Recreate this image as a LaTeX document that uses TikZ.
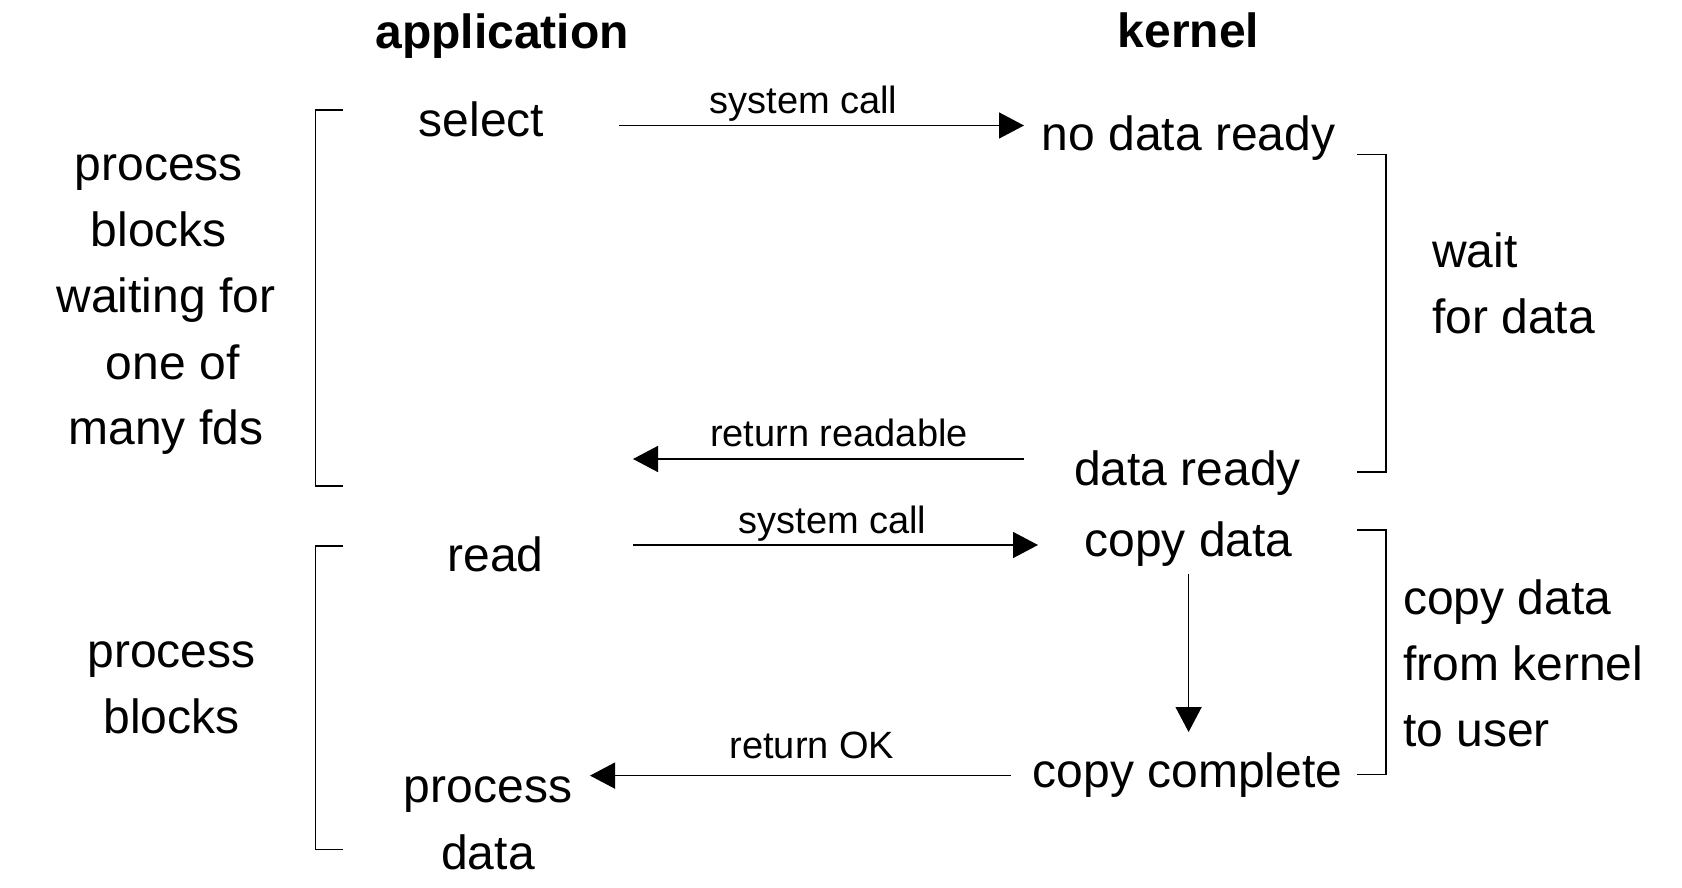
\documentclass[tikz,border=0pt]{standalone}
\usepackage{fontspec}
\setmainfont{Liberation Sans}
\usetikzlibrary{arrows.meta}
\begin{document}
\begin{tikzpicture}[x=1pt,y=-1pt,
  big/.style={font=\fontsize{48}{58}\selectfont, inner sep=0pt, anchor=center},
  head/.style={font=\fontsize{48}{58}\selectfont\bfseries, inner sep=0pt, anchor=center},
  small/.style={font=\fontsize{38}{46}\selectfont, inner sep=0pt, anchor=center},
  side/.style={font=\fontsize{48}{58}\selectfont, inner sep=0pt, anchor=west},
  arr/.style={line width=1.5pt, -{Triangle[length=25pt,width=26pt]}},
  brk/.style={line width=1.6pt}]
\useasboundingbox (0,0) rectangle (1682,888);
% titles
\node[head] (app) at (502,36.3) {application};
\node[head] (ker) at (1188.6,30) {kernel};
% left block 1
\node[big] (l1) at (158.8,172.6) {process};
\node[big] (l2) at (158.8,229.6) {blocks};
\node[big] (l3) at (166,300.3) {waiting for};
\node[big] (l4) at (172.7,362.6) {one of};
\node[big] (l5) at (166,432.3) {many fds};
% left block 2
\node[big] (m1) at (171.6,659.6) {process};
\node[big] (m2) at (171.6,716.6) {blocks};
% application column
\node[big] (select) at (481.6,119) {select};
\node[big] (read) at (495.6,554.6) {read};
\node[big] (proc1) at (488,794.9) {process};
\node[big] (proc2) at (488,852) {data};
% kernel column
\node[big] (nodata) at (1188.6,138.2) {no data ready};
\node[big] (ready) at (1187.5,473.1) {data ready};
\node[big] (copy) at (1188.6,543.8) {copy data};
\node[big] (complete) at (1187.5,775.2) {copy complete};
% right side texts
\node[side] (w1) at (1432,250) {wait};
\node[side] (w2) at (1432,316.5) {for data};
\node[side] (c1) at (1403,601.8) {copy data};
\node[side] (c2) at (1403,663) {from kernel};
\node[side] (c3) at (1403,731.5) {to user};
% arrow end points
\coordinate (a1s) at (619,125.5);
\coordinate (a1e) at (1024,125.5);
\coordinate (a2s) at (1024,459);
\coordinate (a2e) at (633,459);
\coordinate (a3s) at (633,545);
\coordinate (a3e) at (1038,545);
\coordinate (a4s) at (1010.5,775.6);
\coordinate (a4e) at (590,775.6);
\coordinate (d1s) at (copy.south |- 0,574);
\coordinate (d1e) at (copy.south |- 0,732);
% arrows
\draw[arr] (a1s) -- (a1e);
\draw[arr] (a2s) -- (a2e);
\draw[arr] (a3s) -- (a3e);
\draw[arr] (a4s) -- (a4e);
\draw[arr] (d1s) -- (d1e);
% arrow labels
\node[small] (lb1) at (803.5,103.2) {system call};
\node[small] (lb2) at (839,433.4) {return readable};
\node[small] (lb3) at (832.4,523.2) {system call};
\node[small] (lb4) at (812,745.5) {return OK};
% brackets
\draw[brk] (343,110) -- (315.4,110) -- (315.4,486) -- (343,486);
\draw[brk] (343,546) -- (315.4,546) -- (315.4,849.6) -- (343,849.6);
\draw[brk] (1357,154.5) -- (1386,154.5) -- (1386,471.7) -- (1357,471.7);
\draw[brk] (1357,530) -- (1386,530) -- (1386,774.5) -- (1357,774.5);
\end{tikzpicture}
\end{document}
